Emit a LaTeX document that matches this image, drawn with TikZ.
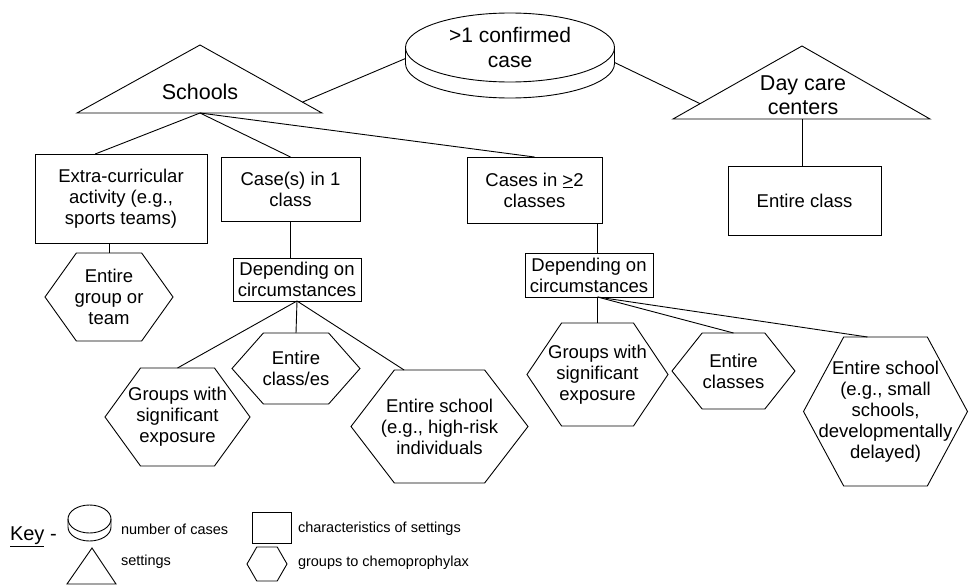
\documentclass[tikz,border=0pt]{standalone}
\usepackage{fontspec}
\setmainfont{Liberation Sans}
\usetikzlibrary{calc}

% outline of a group (hexagon) round a named node
\newcommand{\hexout}[1]{%
  \draw (#1.west) -- ($(#1.north west)!0.245!(#1.north east)$) -- ($(#1.north east)!0.245!(#1.north west)$)
    -- (#1.east) -- ($(#1.south east)!0.245!(#1.south west)$) -- ($(#1.south west)!0.245!(#1.south east)$) -- cycle;}
% outline of a disk round a named node
\newcommand{\diskout}[4]{%
  \draw (#1.center) ellipse [x radius=#2pt, y radius=#3pt];
  \draw (#1.west) -- ++(0,#4) arc [start angle=180, end angle=360, x radius=#2pt, y radius=#3pt] -- (#1.east);}

\tikzset{
  every node/.style={outer sep=0pt},
  body/.style={font=\fontsize{18.5}{21}\selectfont, align=center},
  charbox/.style={body, draw, inner sep=1pt},
  grouphex/.style={body, inner sep=0pt},
  keytext/.style={font=\fontsize{14.5}{17}\selectfont, anchor=west, inner sep=0pt},
}

\begin{document}
\begin{tikzpicture}[x=1pt, y=-1pt, line width=0.9pt, line join=miter]
\useasboundingbox (0,0) rectangle (969,586);

% number of cases
\node[body, font=\fontsize{21}{25}\selectfont, minimum width=209, minimum height=69, inner sep=0pt] (cases) at (510,47.5) {>1 confirmed\\case};
\diskout{cases}{104.5}{34.5}{16}

% settings
\coordinate (sch-l) at (77,113);
\coordinate (sch-t) at (200,45);
\coordinate (sch-r) at (322,113);
\coordinate (sch-b) at (200,113);
\draw (sch-l) -- (sch-t) -- (sch-r) -- cycle;
\node[body, font=\fontsize{21.5}{24}\selectfont] (schools) at (200,92) {Schools};

\coordinate (dc-l) at (673,119);
\coordinate (dc-t) at (802,46);
\coordinate (dc-r) at (930,119);
\coordinate (dc-b) at (802,119);
\draw (dc-l) -- (dc-t) -- (dc-r) -- cycle;
\node[body, font=\fontsize{21.5}{24}\selectfont] (daycare) at (803,95) {Day care\\centers};

% characteristics of settings
\node[charbox, minimum width=172, minimum height=89] (extra) at (121,198.5) {Extra-curricular\\activity (e.g.,\\sports teams)};
\node[charbox, minimum width=139, minimum height=64] (case1) at (290.5,189) {Case(s) in 1\\class};
\node[charbox, minimum width=135, minimum height=66] (case2) at (534.5,190) {Cases in \underline{>}2\\classes};
\node[charbox, minimum width=153, minimum height=69] (dcclass) at (804.5,200.5) {Entire class};
\node[charbox, minimum width=128, minimum height=43] (dep1) at (297,279.5) {Depending on\\circumstances};
\node[charbox, minimum width=128, minimum height=44] (dep2) at (589,275) {Depending on\\circumstances};

% groups to chemoprophylax
\node[grouphex, minimum width=128, minimum height=88] (grpteam) at (109,297) {Entire\\group or\\team};
\hexout{grpteam}
\node[grouphex, minimum width=145, minimum height=98] (grpexp1) at (177.5,417) {Groups with\\significant\\exposure};
\hexout{grpexp1}
\node[grouphex, minimum width=128, minimum height=71] (cls1) at (296,368.5) {Entire\\class/es};
\hexout{cls1}
\node[grouphex, minimum width=177, minimum height=113] (school1) at (439.5,426.5) {Entire school\\(e.g., high-risk\\individuals};
\hexout{school1}
\node[grouphex, minimum width=141, minimum height=103] (grpexp2) at (597.5,374.5) {Groups with\\significant\\exposure};
\hexout{grpexp2}
\node[grouphex, minimum width=123, minimum height=76] (cls2) at (733.5,371) {Entire\\classes};
\hexout{cls2}
\node[grouphex, minimum width=164, minimum height=149] (school2) at (885.5,411.5) {Entire school\\(e.g., small\\schools,\\developmentally\\delayed)};
\hexout{school2}

% connectors
\draw ([yshift=-11pt]cases.west) -- ($(sch-t)!0.84!(sch-r)$);
\draw ([yshift=-15pt]cases.east) -- ($(dc-l)!0.21!(dc-t)$);
\draw (sch-b) -- ($(extra.north west)!0.35!(extra.north east)$);
\draw (sch-b) -- (case1.north);
\draw (sch-b) -- (case2.north);
\draw (dc-b) -- (dc-b |- dcclass.north);
\draw (extra.south -| grpteam.north) -- (grpteam.north);
\draw (case1.south) -- (case1.south |- dep1.north);
\draw (dep1.south) -- (grpexp1.north);
\draw (dep1.south) -- (cls1.north);
\draw (dep1.south) -- ($(school1.north west)!0.3!(school1.north east)$);
\draw (case2.south -| grpexp2.north) -- (dep2.north -| grpexp2.north);
\draw (dep2.south -| grpexp2.north) -- (grpexp2.north);
\draw (dep2.south -| grpexp2.north) -- (cls2.north);
\draw (dep2.south -| grpexp2.north) -- ($(school2.north west)!0.39!(school2.north east)$);

% key
\node[font=\fontsize{20}{24}\selectfont, anchor=west, inner sep=0pt] (key) at (10,537) {\underline{Key} -};
\node[minimum width=43, minimum height=28, inner sep=0pt] (keydisk) at (89.5,519) {};
\diskout{keydisk}{21.5}{14}{8}
\draw (67,584) -- (92,548) -- (116,584) -- cycle;
\node[keytext] (keycases) at (121,529) {number of cases};
\node[keytext] (keysettings) at (121,562) {settings};
\node[draw, minimum width=39, minimum height=31, inner sep=0pt] (keybox) at (271.5,527.5) {};
\node[grouphex, minimum width=40, minimum height=34] (keyhex) at (267,564) {};
\hexout{keyhex}
\node[keytext] (keychar) at (298,529) {characteristics of settings};
\node[keytext] (keygroup) at (298,563) {groups to chemoprophylax};
\end{tikzpicture}
\end{document}
